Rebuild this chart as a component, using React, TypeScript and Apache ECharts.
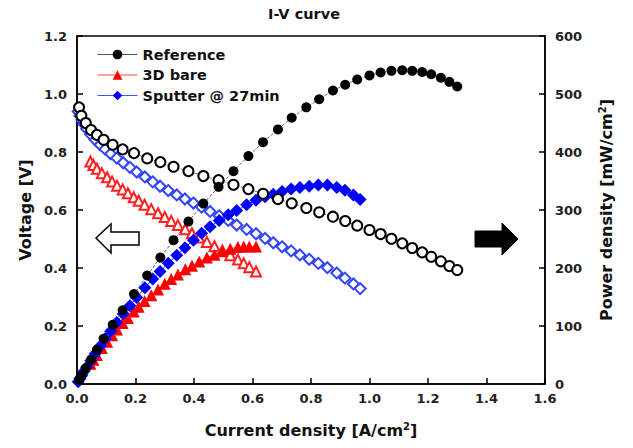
import { useEffect, useRef } from "react";
import * as echarts from "echarts";

// ---- Reference ----
const currentRef = [0.007, 0.015, 0.030, 0.048, 0.068, 0.091, 0.122, 0.156, 0.195, 0.240, 0.285, 0.330, 0.381, 0.432, 0.484, 0.535, 0.586, 0.636, 0.687, 0.734, 0.784, 0.828, 0.875, 0.917, 0.958, 1.000, 1.038, 1.075, 1.112, 1.146, 1.180, 1.211, 1.244, 1.273, 1.300];
const voltageRef = [0.954, 0.925, 0.900, 0.876, 0.859, 0.842, 0.825, 0.809, 0.796, 0.778, 0.765, 0.749, 0.734, 0.717, 0.703, 0.687, 0.672, 0.656, 0.638, 0.623, 0.607, 0.592, 0.577, 0.562, 0.546, 0.531, 0.517, 0.501, 0.485, 0.469, 0.454, 0.439, 0.423, 0.407, 0.393];
const powerRef = [7, 14, 27, 42, 59, 78, 102, 127, 155, 187, 218, 248, 280, 311, 340, 367, 393, 417, 439, 459, 477, 491, 506, 516, 525, 532, 537, 540, 541, 540, 538, 534, 528, 521, 513];

// ---- 3D bare ----
const currentBare = [0.046, 0.056, 0.068, 0.085, 0.103, 0.120, 0.137, 0.156, 0.174, 0.194, 0.211, 0.231, 0.254, 0.277, 0.300, 0.322, 0.345, 0.370, 0.393, 0.418, 0.444, 0.470, 0.497, 0.524, 0.550, 0.570, 0.589, 0.612];
const voltageBare = [0.767, 0.755, 0.742, 0.727, 0.713, 0.698, 0.684, 0.671, 0.658, 0.644, 0.632, 0.618, 0.603, 0.589, 0.576, 0.562, 0.548, 0.534, 0.520, 0.505, 0.490, 0.475, 0.460, 0.444, 0.429, 0.416, 0.403, 0.388];
const powerBare = [35, 42, 50, 62, 73, 84, 94, 105, 114, 125, 133, 143, 153, 163, 173, 181, 189, 198, 204, 211, 218, 223, 229, 233, 236, 237, 237, 237];

// ---- Sputter @ 27min ----
const currentSput = [0.004, 0.010, 0.017, 0.024, 0.033, 0.047, 0.062, 0.079, 0.096, 0.115, 0.136, 0.158, 0.181, 0.204, 0.232, 0.259, 0.284, 0.312, 0.341, 0.369, 0.398, 0.426, 0.455, 0.486, 0.517, 0.546, 0.580, 0.612, 0.643, 0.671, 0.701, 0.732, 0.762, 0.794, 0.825, 0.856, 0.888, 0.916, 0.945, 0.968];
const voltageSput = [0.940, 0.925, 0.910, 0.896, 0.880, 0.860, 0.842, 0.825, 0.810, 0.794, 0.779, 0.763, 0.747, 0.731, 0.714, 0.697, 0.682, 0.667, 0.652, 0.638, 0.624, 0.610, 0.595, 0.580, 0.564, 0.548, 0.533, 0.518, 0.502, 0.487, 0.473, 0.459, 0.445, 0.430, 0.416, 0.401, 0.383, 0.365, 0.345, 0.329];
const powerSput = [4, 9, 15, 22, 29, 40, 52, 65, 78, 91, 106, 121, 135, 149, 166, 181, 194, 208, 222, 235, 248, 260, 271, 282, 292, 299, 309, 317, 323, 327, 332, 336, 339, 341, 343, 343, 339, 334, 326, 318];

const xTicks = { min: 0, max: 1.6, interval: 0.2 };
const vTicks = { min: 0, max: 1.2, interval: 0.2 };
const pTicks = { min: 0, max: 600, interval: 100 };

const WIDE = "'DejaVu Sans', Verdana, sans-serif";

const pairs = (xs: number[], ys: number[]) => xs.map((x, i) => [x, ys[i]]);

export default function App() {
  const ref = useRef<HTMLDivElement>(null);
  useEffect(() => {
    document.body.style.margin = "0";
    const chart = echarts.init(ref.current!, null, { renderer: "svg" });
    const axisCommon = {
      axisLine: { show: true, lineStyle: { color: "#000", width: 1.5 } },
      axisTick: { show: true, inside: true, length: 6, lineStyle: { color: "#000", width: 1.5 } },
      splitLine: { show: false },
    };
    const tickLabel = { fontFamily: WIDE, fontWeight: "bold", fontSize: 13, color: "#222" };
    const nameStyle = (extra: any = {}) => ({
      fontFamily: WIDE,
      fontWeight: "bold",
      fontSize: 16,
      color: "#111",
      rich: {
        sup: { fontFamily: WIDE, fontWeight: "bold", fontSize: 10, color: "#111", padding: [0, 0, 9, 0] },
      },
      ...extra,
    });
    chart.setOption({
      animation: false,
      backgroundColor: "#fff",
      title: {
        text: "I-V curve",
        left: 268,
        top: 6,
        padding: 0,
        textStyle: { fontFamily: WIDE, fontWeight: "bold", fontSize: 14.5, color: "#111" },
      },
      grid: { left: 77, right: 88, top: 36, bottom: 64, show: true, borderColor: "#000", borderWidth: 1.5 },
      legend: {
        orient: "vertical",
        left: 92,
        top: 42,
        itemWidth: 40,
        itemHeight: 12,
        itemGap: 5.5,
        selectedMode: false,
        textStyle: { fontFamily: WIDE, fontWeight: "bold", fontSize: 14.5, color: "#111" },
        data: [
          { name: "Reference", lineStyle: { color: "#555", type: "solid", width: 1 } },
          { name: "3D bare", lineStyle: { color: "#ff4444", type: "solid", width: 1 } },
          { name: "Sputter @ 27min", lineStyle: { color: "#4455ff", type: "solid", width: 1 } },
        ],
      },
      xAxis: {
        type: "value",
        ...xTicks,
        ...axisCommon,
        axisLabel: { ...tickLabel, margin: 8, formatter: (v: number) => v.toFixed(1) },
        name: "Current density [A/cm{sup|2}]",
        nameLocation: "middle",
        nameGap: 37,
        nameTextStyle: nameStyle(),
      },
      yAxis: [
        {
          type: "value",
          ...vTicks,
          ...axisCommon,
          axisLabel: { ...tickLabel, margin: 10, formatter: (v: number) => v.toFixed(1) },
          name: "Voltage [V]",
          nameLocation: "middle",
          nameGap: 41,
          nameTextStyle: nameStyle(),
        },
        {
          type: "value",
          position: "right",
          ...pTicks,
          ...axisCommon,
          axisLabel: { ...tickLabel, margin: 10 },
          name: "Power density [mW/cm{sup|2}]",
          nameLocation: "middle",
          nameGap: 52,
          nameTextStyle: nameStyle(),
        },
      ],
      graphic: [
        {
          type: "polygon",
          shape: { points: [[96, 238], [111, 224], [111, 232], [139, 232], [139, 245], [111, 245], [111, 253]] },
          style: { fill: "#fff", stroke: "#000", lineWidth: 1.5 },
        },
        {
          type: "polygon",
          shape: { points: [[475, 231], [502, 231], [502, 223], [518, 239], [502, 255], [502, 247], [475, 247]] },
          style: { fill: "#000", stroke: "#000", lineWidth: 1 },
        },
      ],
      series: [
        {
          name: "3D bare V",
          type: "line",
          yAxisIndex: 0,
          data: pairs(currentBare, voltageBare),
          symbol: "emptyTriangle",
          symbolSize: 10,
          itemStyle: { color: "#ff2020", borderWidth: 1 },
          lineStyle: { color: "#ff4444", width: 0.8 },
          silent: true,
        },
        {
          name: "3D bare",
          type: "line",
          yAxisIndex: 1,
          data: pairs(currentBare, powerBare),
          symbol: "triangle",
          symbolSize: 12,
          itemStyle: { color: "#ff0000" },
          lineStyle: { color: "#ff0000", width: 0.8 },
          silent: true,
        },
        {
          name: "Sputter V",
          type: "line",
          yAxisIndex: 0,
          data: pairs(currentSput, voltageSput),
          symbol: "emptyDiamond",
          symbolSize: 11,
          itemStyle: { color: "#3344ff", borderWidth: 1 },
          lineStyle: { color: "#4455ff", width: 0.8 },
          silent: true,
        },
        {
          name: "Sputter @ 27min",
          type: "line",
          yAxisIndex: 1,
          data: pairs(currentSput, powerSput),
          symbol: "diamond",
          symbolSize: 13,
          itemStyle: { color: "#0000ff" },
          lineStyle: { color: "#0000ff", width: 0.8 },
          silent: true,
        },
        {
          name: "Reference V",
          type: "line",
          yAxisIndex: 0,
          data: pairs(currentRef, voltageRef),
          symbol: "emptyCircle",
          symbolSize: 10,
          itemStyle: { color: "#000", borderWidth: 1 },
          lineStyle: { color: "#444", width: 0.8, type: "dashed" },
          silent: true,
        },
        {
          name: "Reference",
          type: "line",
          yAxisIndex: 1,
          data: pairs(currentRef, powerRef),
          symbol: "circle",
          symbolSize: 10,
          itemStyle: { color: "#000" },
          lineStyle: { color: "#444", width: 0.8, type: "dashed" },
          silent: true,
        },
      ],
    });
    return () => chart.dispose();
  }, []);
  return <div ref={ref} style={{ position: "fixed", left: 0, top: 0, width: 633, height: 448 }} />;
}
